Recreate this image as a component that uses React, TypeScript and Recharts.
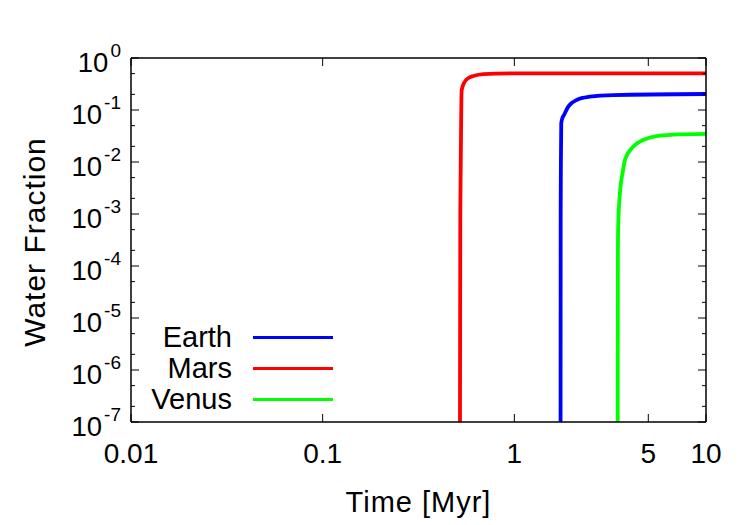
import { LineChart, Line, XAxis, YAxis, Legend } from 'recharts'

const FONT = '"Liberation Sans", Arial, Helvetica, sans-serif'

const earthTime = [1.742, 1.745, 1.75, 1.757, 1.782, 1.815, 1.911, 2.113, 2.479, 3.279, 10]
const earthWater = [1e-8, 1e-3, 0.01, 0.0555, 0.07, 0.08, 0.116, 0.156, 0.18, 0.194, 0.203]

const marsTime = [0.52, 0.5225, 0.525, 0.531, 0.546, 0.575, 0.611, 0.689, 0.984, 10]
const marsWater = [1e-8, 1e-3, 0.007, 0.24, 0.33, 0.41, 0.45, 0.49, 0.505, 0.507]

const venusTime = [3.459, 3.47, 3.483, 3.556, 3.673, 3.79, 4.17, 4.7, 5.52, 6.74, 10]
const venusWater = [1e-8, 2.0e-4, 5.7e-4, 2.54e-3, 6.2e-3, 0.0115, 0.0197, 0.0265, 0.0316, 0.0335, 0.0347]

const xTicks = [0.01, 0.1, 1, 5, 10]
const yTicks = [
  1e-7, 2e-7, 5e-7, 1e-6, 2e-6, 5e-6, 1e-5, 2e-5, 5e-5, 1e-4, 2e-4, 5e-4,
  1e-3, 2e-3, 5e-3, 1e-2, 2e-2, 5e-2, 1e-1, 2e-1, 5e-1, 1,
]

const toRows = (t: number[], w: number[]) => t.map((v, i) => ({ t: v, w: w[i] }))
const earth = toRows(earthTime, earthWater)
const mars = toRows(marsTime, marsWater)
const venus = toRows(venusTime, venusWater)

const isDecade = (v: number) => Math.abs(Math.log10(v) - Math.round(Math.log10(v))) < 1e-9

function BottomTick({ x, y, payload }: any) {
  return (
    <g>
      <line x1={x} y1={y} x2={x} y2={y - 8} stroke="#000" strokeWidth={1} />
      <text x={x} y={y + 41} textAnchor="middle" fontSize={28} fontFamily={FONT} fill="#000">
        {String(payload.value)}
      </text>
    </g>
  )
}

function TopTick({ x, y }: any) {
  return <line x1={x} y1={y} x2={x} y2={y + 8} stroke="#000" strokeWidth={1} />
}

function LeftTick({ x, y, payload }: any) {
  const v = payload.value
  const major = isDecade(v)
  const exp = Math.round(Math.log10(v))
  return (
    <g>
      <line x1={x} y1={y} x2={x + (major ? 8 : 4)} y2={y} stroke="#000" strokeWidth={1} />
      {major && (
        <text x={x - 10} y={y + 13.5} textAnchor="end" fontFamily={FONT} fill="#000">
          <tspan fontSize={27.5}>10</tspan>
          <tspan fontSize={19} dx={2} dy={-15}>{exp}</tspan>
        </text>
      )}
    </g>
  )
}

function RightTick({ x, y, payload }: any) {
  const major = isDecade(payload.value)
  return <line x1={x} y1={y} x2={x - (major ? 8 : 4)} y2={y} stroke="#000" strokeWidth={1} />
}

function LegendBox({ payload }: any) {
  return (
    <div style={{ fontFamily: FONT, fontSize: 29, color: '#000' }}>
      {(payload || []).map((e: any) => (
        <div key={e.value} style={{ display: 'flex', alignItems: 'center', height: 31 }}>
          <span style={{ width: 102, textAlign: 'right', lineHeight: '31px' }}>{e.value}</span>
          <span style={{ marginLeft: 21, width: 80, height: 3.8, background: e.color }} />
        </div>
      ))}
    </div>
  )
}

function YLabel({ viewBox }: any) {
  const cx = 45
  const cy = viewBox.y + viewBox.height / 2 + 2
  return (
    <text
      x={cx}
      y={cy}
      transform={`rotate(-90 ${cx} ${cy})`}
      textAnchor="middle"
      fontSize={30}
      letterSpacing={1}
      fontFamily={FONT}
      fill="#000"
    >
      Water Fraction
    </text>
  )
}

export default function App() {
  const axisLine = { stroke: '#000', strokeWidth: 1.5 }
  return (
    <div style={{ position: 'absolute', left: 0, top: 0, background: '#fff' }}>
      <LineChart width={750} height={525} margin={{ top: 0, right: 0, bottom: 0, left: 0 }}>
        <XAxis
          type="number"
          dataKey="t"
          scale="log"
          domain={[0.01, 10]}
          ticks={xTicks}
          interval={0}
          allowDataOverflow
          height={103}
          tickSize={0}
          tickMargin={0}
          tickLine={false}
          tick={<BottomTick />}
          axisLine={axisLine}
          label={{ value: 'Time [Myr]', position: 'insideBottom', offset: 13, fontSize: 29, letterSpacing: 1, fontFamily: FONT, fill: '#000' }}
        />
        <XAxis
          xAxisId="top"
          orientation="top"
          type="number"
          dataKey="t"
          scale="log"
          domain={[0.01, 10]}
          ticks={xTicks}
          interval={0}
          allowDataOverflow
          height={58}
          tickSize={0}
          tickMargin={0}
          tickLine={false}
          tick={<TopTick />}
          axisLine={axisLine}
        />
        <YAxis
          type="number"
          dataKey="w"
          scale="log"
          domain={[1e-7, 1]}
          ticks={yTicks}
          interval={0}
          allowDataOverflow
          width={131}
          tickSize={0}
          tickMargin={0}
          tickLine={false}
          tick={<LeftTick />}
          axisLine={axisLine}
          label={{ content: <YLabel /> }}
        />
        <YAxis
          yAxisId="right"
          orientation="right"
          type="number"
          dataKey="w"
          scale="log"
          domain={[1e-7, 1]}
          ticks={yTicks}
          interval={0}
          allowDataOverflow
          width={44}
          tickSize={0}
          tickMargin={0}
          tickLine={false}
          tick={<RightTick />}
          axisLine={axisLine}
        />
        <Legend
          layout="vertical"
          align="center"
          verticalAlign="middle"
          wrapperStyle={{ left: 130, top: 322, width: 210 }}
          content={<LegendBox />}
        />
        <Line data={earth} dataKey="w" name="Earth" type="monotone" stroke="#0000ff" strokeWidth={3.8} dot={false} isAnimationActive={false} />
        <Line data={mars} dataKey="w" name="Mars" type="monotone" stroke="#ff0000" strokeWidth={3.8} dot={false} isAnimationActive={false} />
        <Line data={venus} dataKey="w" name="Venus" type="monotone" stroke="#00ff00" strokeWidth={3.8} dot={false} isAnimationActive={false} />
      </LineChart>
    </div>
  )
}
